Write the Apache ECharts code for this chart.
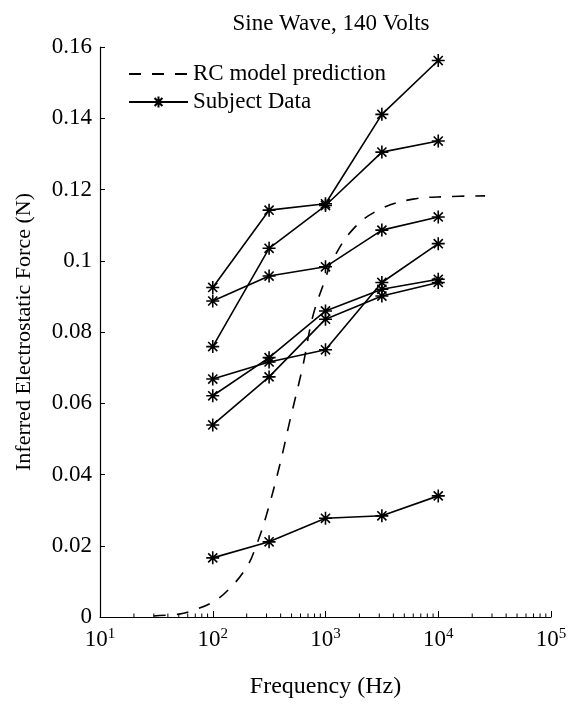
<!DOCTYPE html>
<html>
<head>
<meta charset="utf-8">
<script src="https://cdn.jsdelivr.net/npm/echarts@6/dist/echarts.min.js"></script>
<style>html,body{margin:0;padding:0;background:#fff;}#c{width:572px;height:704px;}</style>
</head>
<body>
<div id="c"></div>
<script>
// ---- data ----
var freqs = [100, 316, 1000, 3162, 10000];
var subj1 = [0.0925, 0.1142, 0.1160, 0.1411, 0.1562];
var subj2 = [0.0759, 0.1035, 0.1155, 0.1305, 0.1336];
var subj3 = [0.0887, 0.0957, 0.0983, 0.1086, 0.1123];
var subj4 = [0.0668, 0.0716, 0.0750, 0.0939, 0.1048];
var subj5 = [0.0621, 0.0728, 0.0859, 0.0920, 0.0948];
var subj6 = [0.0539, 0.0674, 0.0836, 0.0901, 0.0939];
var subj7 = [0.0166, 0.0211, 0.0277, 0.0284, 0.0340];
var rcFreq = [30, 50, 62, 100, 140, 200, 243, 298, 391, 480, 630, 773, 1000, 1125, 1750, 3020, 5970, 12000, 26000];
var rcVal  = [0.0003, 0.0008, 0.0015, 0.0042, 0.0079, 0.0140, 0.0200, 0.0284, 0.0424, 0.0547, 0.0705, 0.0845, 0.0950, 0.0995, 0.1088, 0.1144, 0.1173, 0.1180, 0.1182];
var yTicks = [0, 0.02, 0.04, 0.06, 0.08, 0.1, 0.12, 0.14, 0.16];

var FONT = 'Liberation Serif';
var chart = echarts.init(document.getElementById('c'), null, {renderer: 'canvas'});
var star = 'path://M0,-10L0,10M-10,0L10,0M-7,-7L7,7M-7,7L7,-7';

function zip(xs, ys) { return xs.map(function (x, i) { return [x, ys[i]]; }); }

// minor ticks at 2..9 x 10^k
var minorVals = [];
for (var e = 1; e < 5; e++) for (var m = 2; m <= 9; m++) minorVals.push(m * Math.pow(10, e));

var subjects = [subj1, subj2, subj3, subj4, subj5, subj6, subj7];
var series = [{
  name: 'RC model prediction',
  type: 'line',
  data: zip(rcFreq, rcVal),
  smooth: 0.4,
  showSymbol: false,
  symbol: 'none',
  lineStyle: {color: '#000', width: 1.6, type: [12, 11]},
  itemStyle: {color: '#000'},
  z: 2
}];
subjects.forEach(function (s) {
  series.push({
    name: 'Subject Data',
    type: 'line',
    data: zip(freqs, s),
    symbol: star,
    symbolSize: 13,
    lineStyle: {color: '#000', width: 1.6},
    itemStyle: {color: '#000', borderColor: '#000', borderWidth: 1.6},
    z: 3
  });
});
series.push({
  type: 'custom',
  silent: true,
  data: minorVals,
  encode: {x: 0},
  renderItem: function (params, api) {
    var p = api.coord([api.value(0), 0]);
    return {type: 'line', shape: {x1: p[0], y1: p[1], x2: p[0], y2: p[1] - 3.5},
            style: {stroke: '#000', lineWidth: 1}};
  },
  z: 1
});

chart.setOption({
  animation: false,
  backgroundColor: '#fff',
  title: {
    text: 'Sine Wave, 140 Volts',
    left: 326, top: 7, textAlign: 'center',
    textStyle: {fontFamily: FONT, fontSize: 23, fontWeight: 'normal', color: '#000'}
  },
  legend: {
    left: 123, top: 57, orient: 'vertical', itemGap: 4,
    itemWidth: 59, itemHeight: 14,
    data: [
      {name: 'RC model prediction', itemStyle: {opacity: 0}},
      {name: 'Subject Data'}
    ],
    textStyle: {fontFamily: FONT, fontSize: 23, lineHeight: 24, color: '#000'},
    selectedMode: false
  },
  grid: {left: 100, right: 21, top: 47, bottom: 86, containLabel: false},
  xAxis: {
    type: 'log', logBase: 10, min: 10, max: 100000,
    name: 'Frequency (Hz)', nameLocation: 'middle', nameGap: 58,
    nameTextStyle: {fontFamily: FONT, fontSize: 24, color: '#000'},
    axisLine: {lineStyle: {color: '#000', width: 1.2}},
    axisTick: {inside: true, length: 6, lineStyle: {color: '#000'}},
    minorTick: {show: false},
    splitLine: {show: false},
    axisLabel: {
      margin: 10,
      formatter: function (v) {
        var e = Math.round(Math.log10(v));
        return '{b|10}{s|' + e + '}';
      },
      rich: {
        b: {fontFamily: FONT, fontSize: 23, color: '#000'},
        s: {fontFamily: FONT, fontSize: 15, color: '#000', verticalAlign: 'top', padding: [0, 0, 10, 0]}
      }
    }
  },
  yAxis: {
    type: 'value', min: 0, max: 0.16, interval: 0.02,
    name: 'Inferred Electrostatic Force (N)', nameLocation: 'middle', nameGap: 65,
    nameTextStyle: {fontFamily: FONT, fontSize: 22, color: '#000'},
    axisLine: {show: true, lineStyle: {color: '#000', width: 1.2}},
    axisTick: {show: true, inside: true, length: 5, lineStyle: {color: '#000'}},
    splitLine: {show: false},
    axisLabel: {
      margin: 8, fontFamily: FONT, fontSize: 23, color: '#000',
      formatter: function (v) {
        for (var i = 0; i < yTicks.length; i++) if (Math.abs(yTicks[i] - v) < 1e-9) return String(yTicks[i]);
        return '';
      }
    }
  },
  series: series
});
</script>
</body>
</html>
